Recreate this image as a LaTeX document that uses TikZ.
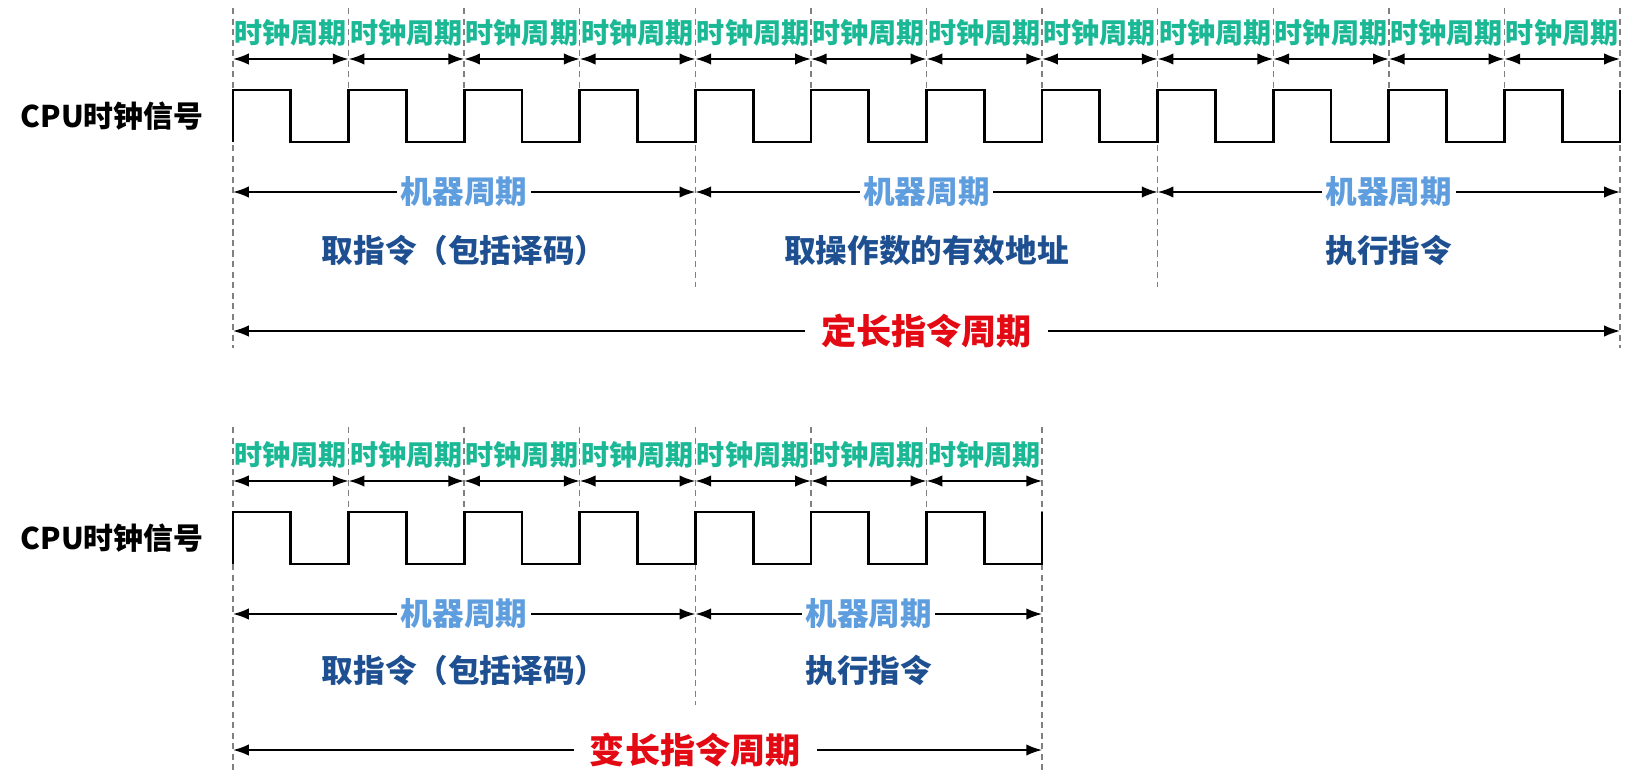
\documentclass[tikz,border=0pt]{standalone}
\usepackage{fontspec}
\setmainfont{Noto Sans CJK SC}
\usetikzlibrary{arrows.meta}

\definecolor{clkgreen}{RGB}{27,184,150}
\definecolor{mcblue}{RGB}{95,158,222}
\definecolor{insblue}{RGB}{30,80,145}
\definecolor{lenred}{RGB}{228,10,20}

\tikzset{
  tick/.style={gray, line width=0.8pt, dash pattern=on 3.5pt off 2.5pt},
  wave/.style={line width=1.6pt},
  span/.style={{Latex[length=9pt,width=6.5pt]}-{Latex[length=9pt,width=6.5pt]}, line width=1pt},
  clklbl/.style={text=clkgreen, inner sep=0pt, yshift=15pt, font=\bfseries\fontsize{16}{16}\selectfont},
  mclbl/.style={text=mcblue, fill=white, inner xsep=2pt, inner ysep=0pt, font=\bfseries\fontsize{18}{18}\selectfont},
  inslbl/.style={text=insblue, font=\bfseries\fontsize{18}{18}\selectfont},
  lenlbl/.style={text=lenred, fill=white, inner xsep=9pt, inner ysep=0pt, font=\bfseries\fontsize{20}{20}\selectfont},
  siglbl/.style={font=\bfseries\fontsize{17}{18}\selectfont}
}

\begin{document}
\begin{tikzpicture}[x=0.02cm, y=-0.02cm]
	\useasboundingbox (0,0) rectangle (1640,770);
	\def\T{115.583}
	% fixed-length instruction cycle
	\foreach \i in {1,2,3,5,6,7,9,10,11}
		\draw[tick] ({233+\i*\T},8) -- ({233+\i*\T},90);
	\draw[tick] ({233+4*\T},8) -- ({233+4*\T},287);
	\draw[tick] ({233+8*\T},8) -- ({233+8*\T},287);
	\draw[tick] (233,8) -- (233,348);
	\draw[tick] ({233+12*\T},8) -- ({233+12*\T},348);
	\foreach \i in {0,...,12}
		\coordinate (c\i) at ({233+\i*\T},59);
	\foreach \i [evaluate=\i as \j using int(\i+1)] in {0,...,11}
		\draw[span] (c\i) -- node[clklbl] (clk\i) {时钟周期} (c\j);
	\node[siglbl] (sig) at (112,116) {CPU时钟信号};
	\draw[wave] (233,142) -- (233,90) \foreach \i in {1,...,12} {-- ++({\T/2},0) -- ++(0,52) -- ++({\T/2},0) -- ++(0,-52)};
	\coordinate (m0) at (233,192);
	\coordinate (m4) at ({233+4*\T},192);
	\coordinate (m8) at ({233+8*\T},192);
	\coordinate (m12) at ({233+12*\T},192);
	\draw[span] (m0) -- node[mclbl] (mc1) {机器周期} (m4);
	\draw[span] (m4) -- node[mclbl] (mc2) {机器周期} (m8);
	\draw[span] (m8) -- node[mclbl] (mc3) {机器周期} (m12);
	\node[inslbl] (fetch) at ({233+2*\T},250) {取指令（包括译码）};
	\node[inslbl] (addr) at ({233+6*\T},250) {取操作数的有效地址};
	\node[inslbl] (exec) at ({233+10*\T},250) {执行指令};
	\coordinate (f0) at (233,331);
	\coordinate (f12) at ({233+12*\T},331);
	\draw[span] (f0) -- node[lenlbl] (fixed) {定长指令周期} (f12);

	% variable-length instruction cycle
	\foreach \i in {1,2,3,5,6}
		\draw[tick] ({233+\i*\T},427) -- ({233+\i*\T},512);
	\draw[tick] ({233+4*\T},427) -- ({233+4*\T},705);
	\draw[tick] (233,427) -- (233,770);
	\draw[tick] ({233+7*\T},427) -- ({233+7*\T},770);
	\foreach \i in {0,...,7}
		\coordinate (d\i) at ({233+\i*\T},481);
	\foreach \i [evaluate=\i as \j using int(\i+1)] in {0,...,6}
		\draw[span] (d\i) -- node[clklbl] (bclk\i) {时钟周期} (d\j);
	\node[siglbl] (bsig) at (112,538) {CPU时钟信号};
	\draw[wave] (233,564) -- (233,512) \foreach \i in {1,...,7} {-- ++({\T/2},0) -- ++(0,52) -- ++({\T/2},0) -- ++(0,-52)};
	\coordinate (n0) at (233,614);
	\coordinate (n4) at ({233+4*\T},614);
	\coordinate (n7) at ({233+7*\T},614);
	\draw[span] (n0) -- node[mclbl] (bmc1) {机器周期} (n4);
	\draw[span] (n4) -- node[mclbl] (bmc2) {机器周期} (n7);
	\node[inslbl] (bfetch) at ({233+2*\T},670) {取指令（包括译码）};
	\node[inslbl] (bexec) at ({233+5.5*\T},670) {执行指令};
	\coordinate (v0) at (233,750);
	\coordinate (v7) at ({233+7*\T},750);
	\draw[span] (v0) -- node[lenlbl, pos=4/7] (varlen) {变长指令周期} (v7);
\end{tikzpicture}
\end{document}
